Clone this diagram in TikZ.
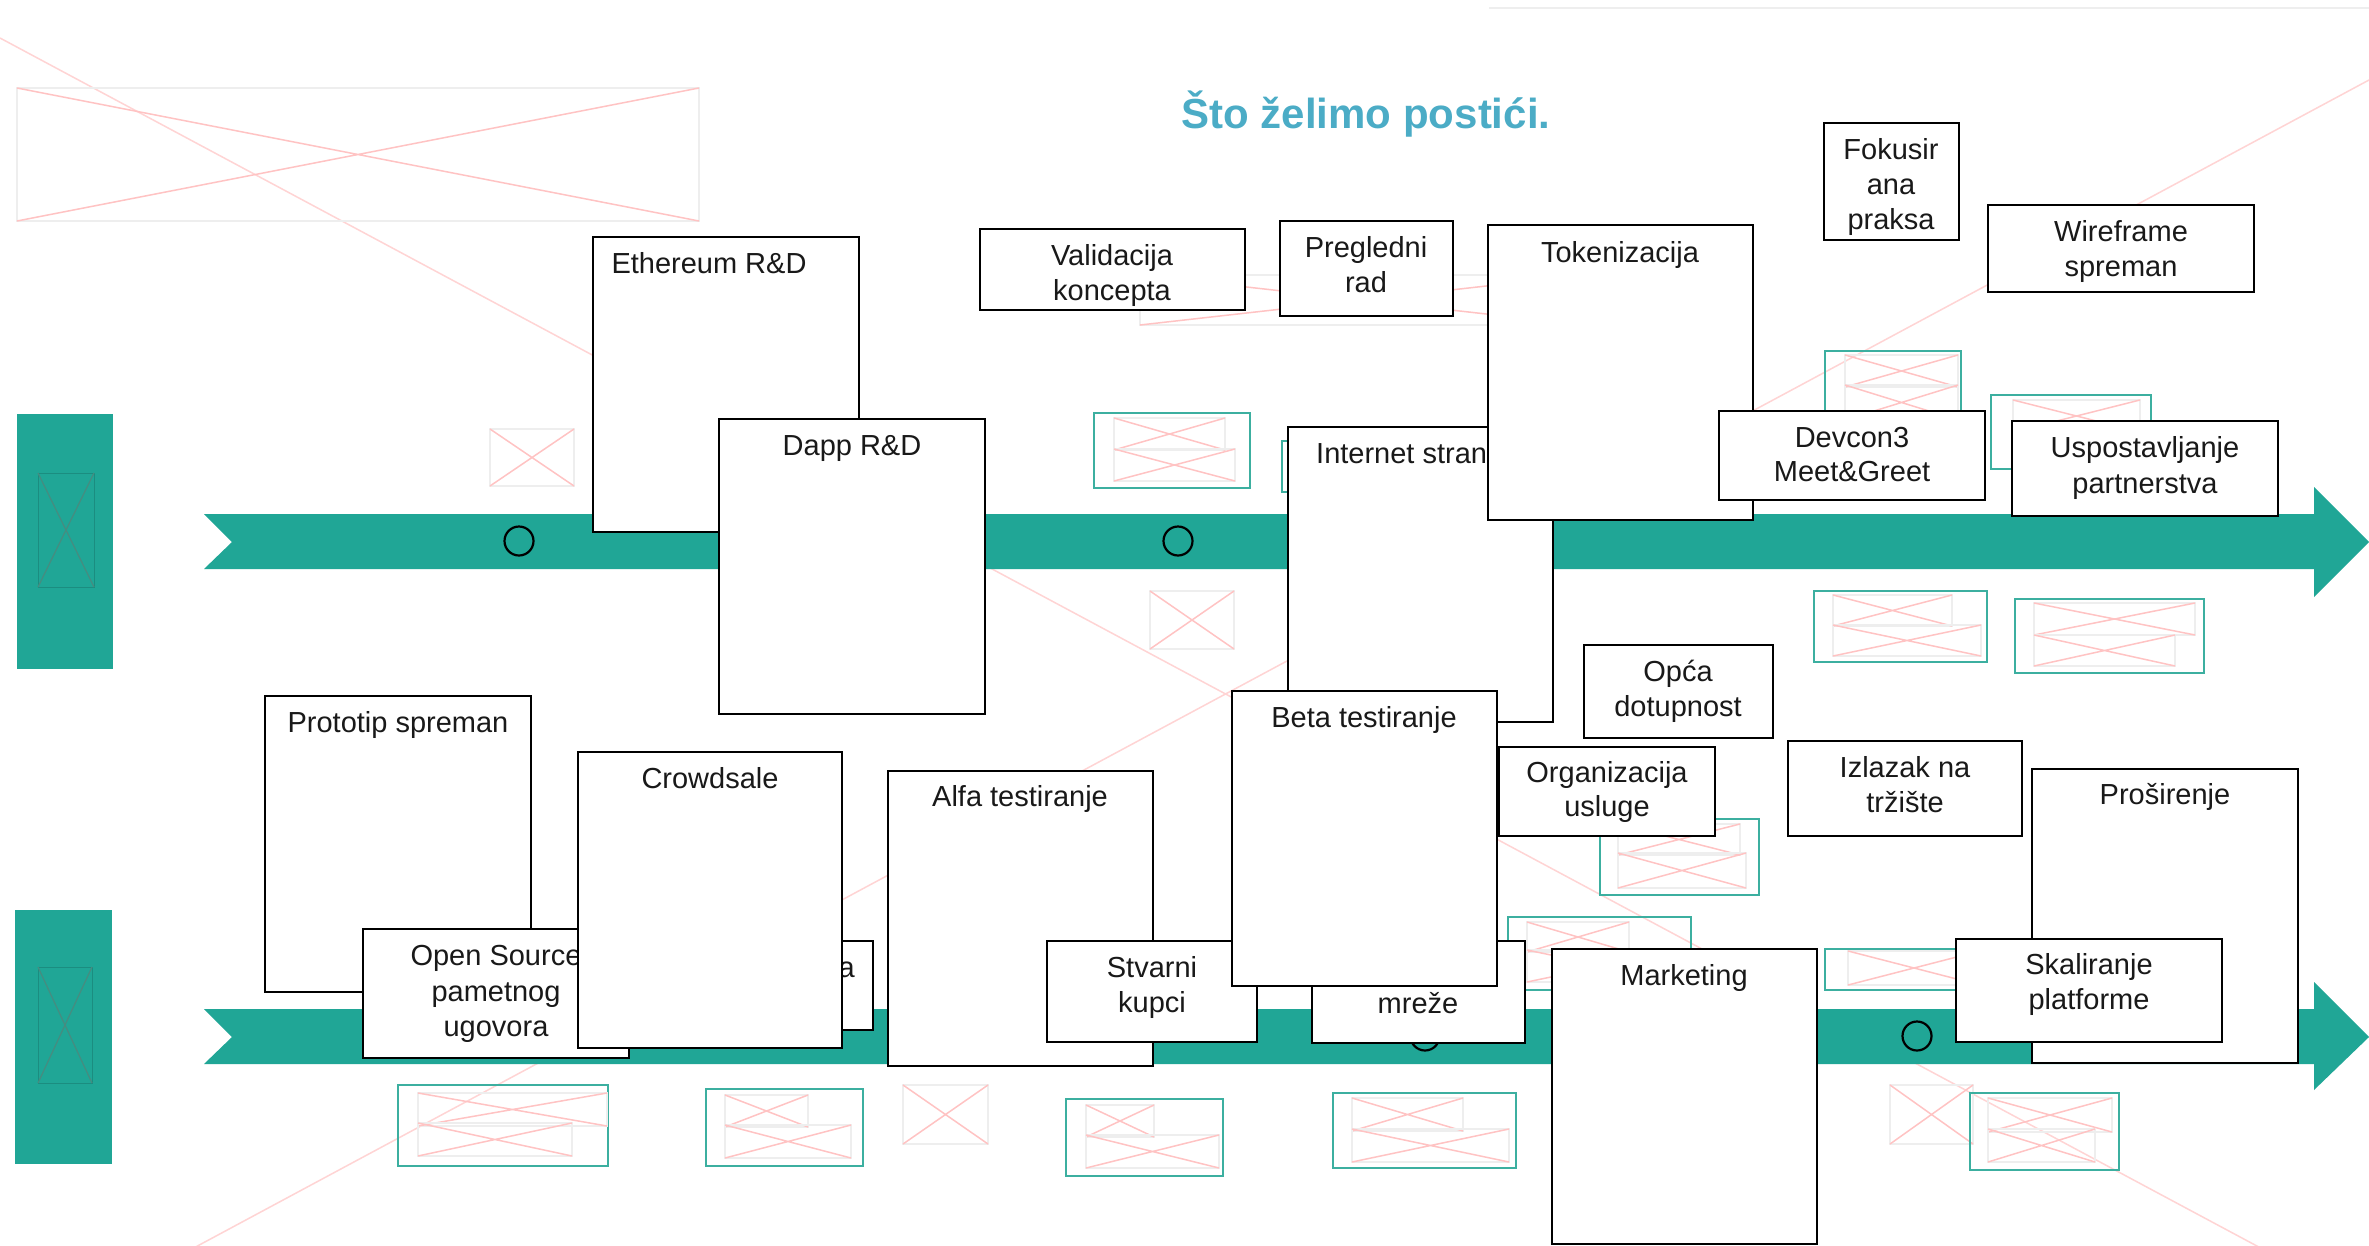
\documentclass[tikz,border=0pt]{standalone}
\usepackage{fontspec}
\setmainfont{Liberation Sans}
\usetikzlibrary{fit}
\definecolor{teal1}{RGB}{32,166,150}
\definecolor{tealline}{RGB}{60,175,160}
\definecolor{titleblue}{RGB}{75,172,198}
\definecolor{pinkline}{RGB}{255,195,195}
\definecolor{bigpink}{RGB}{255,212,212}
\definecolor{phgray}{RGB}{238,238,238}
\definecolor{txtc}{RGB}{25,25,25}
\definecolor{lfline}{RGB}{70,140,128}
\tikzset{
  wbox/.style={draw=black, fill=white, line width=2pt, inner sep=0pt, rectangle},
  txt/.style={font=\fontsize{29}{35}\selectfont, text=txtc, anchor=base, inner sep=0pt},
  phborder/.style={draw=phgray, line width=1.5pt},
  phx/.style={draw=pinkline, line width=1.5pt},
  tealb/.style={draw=tealline, line width=2.5pt},
  bigx/.style={draw=bigpink, line width=1.5pt},
  band/.style={fill=teal1},
  ms/.style={draw=black, line width=2.2pt, circle, inner sep=0pt, minimum size=29pt},
  lfx/.style={draw=lfline, line width=1.2pt},
  lfb/.style={draw=teal1!85!black, line width=0.8pt},
}
\newcommand\phbox[4]{\draw[phborder] (#1,#2) rectangle (#3,#4);
  \draw[phx] (#1,#2) -- (#3,#4) (#1,#4) -- (#3,#2);}
\newcommand\tealph[4]{\draw[tealb] (#1,#2) rectangle (#3,#4);}
\begin{document}
\begin{tikzpicture}[x=1pt,y=-1pt]
\clip (0,0) rectangle (2369,1245);
\fill[white] (0,0) rectangle (2369,1245);
% faint background lines
\draw[phgray, line width=1.5pt] (1489,8) -- (2369,8);
\draw[bigx] (0,38) -- (2369,1306);
\draw[bigx] (2369,80) -- (0,1352);
% plain placeholders
\phbox{17}{88}{699}{221}
\phbox{490}{429}{574}{486}
\phbox{1150}{591}{1234}{649}
\phbox{903}{1085}{988}{1144}
\phbox{1890}{1085}{1973}{1144}
\phbox{1140}{275}{1584}{325}
% teal placeholders
\tealph{1094}{413}{1250}{488}\phbox{1114}{418}{1225}{450}\phbox{1114}{449}{1235}{481}
\tealph{1282}{441}{1400}{492}
\tealph{1825}{351}{1961}{430}\phbox{1845}{355}{1958}{387}\phbox{1845}{385}{1958}{420}
\tealph{1991}{395}{2151}{469}\phbox{2013}{400}{2140}{432}\phbox{2013}{430}{2140}{462}
\tealph{1814}{591}{1987}{662}\phbox{1833}{595}{1952}{626}\phbox{1833}{625}{1981}{656}
\tealph{2015}{599}{2204}{673}\phbox{2034}{603}{2195}{635}\phbox{2034}{635}{2175}{666}
\tealph{1600}{819}{1759}{895}\phbox{1618}{824}{1740}{855}\phbox{1618}{853}{1746}{888}
\tealph{1508}{917}{1691}{990}\phbox{1527}{922}{1629}{952}\phbox{1527}{950}{1680}{982}
\tealph{1825}{949}{1990}{990}\phbox{1848}{951}{1980}{985}
\tealph{398}{1085}{608}{1166}\phbox{418}{1093}{607}{1126}\phbox{418}{1123}{572}{1156}
\tealph{706}{1089}{863}{1166}\phbox{725}{1095}{808}{1127}\phbox{725}{1125}{851}{1158}
\tealph{1066}{1099}{1223}{1176}\phbox{1086}{1105}{1154}{1137}\phbox{1086}{1135}{1219}{1168}
\tealph{1333}{1093}{1516}{1168}\phbox{1352}{1098}{1463}{1131}\phbox{1352}{1129}{1509}{1162}
\tealph{1970}{1093}{2119}{1170}\phbox{1988}{1098}{2112}{1132}\phbox{1988}{1129}{2095}{1162}
% left teal blocks
\fill[teal1] (17,414) rectangle (113,669);
\draw[lfb] (38,473) rectangle (94,587);
\draw[lfx] (38,473) -- (94,587) (38,587) -- (94,473);
\fill[teal1] (15,910) rectangle (112,1164);
\draw[lfb] (38,967) rectangle (92,1083);
\draw[lfx] (38,967) -- (92,1083) (38,1083) -- (92,967);
% timeline bands
\fill[band] (204,514) -- (2314,514) -- (2314,487) -- (2369,542) -- (2314,597) -- (2314,569) -- (204,569) -- (232,542) -- cycle;
\fill[band] (204,1009) -- (2314,1009) -- (2314,982) -- (2369,1037) -- (2314,1090) -- (2314,1064) -- (204,1064) -- (232,1037) -- cycle;
% milestones
\node[ms] (m1) at (519,541) {};
\node[ms] (m2) at (1178,541) {};
\node[ms] (m3) at (1425,1036) {};
\node[ms] (m4) at (1917,1036) {};
% title
\node[font=\fontsize{42}{50}\selectfont\bfseries, text=titleblue, anchor=base, inner sep=0pt] (title) at (1366,128) {Što želimo postići.};
% boxes
\node[wbox, fit={(593,237) (859,532)}] (eth) {};
\node[txt] (ethT) at (709,273) {Ethereum R\&D};
\node[wbox, fit={(719,419) (985,714)}] (dapp) {};
\node[txt] (dappT) at (852,455) {Dapp R\&D};
\node[wbox, fit={(980,229) (1245,310)}] (val) {};
\node[txt] (valT1) at (1112,265) {Validacija};
\node[txt] (valT2) at (1112,300) {koncepta};
\node[wbox, fit={(1280,221) (1453,316)}] (preg) {};
\node[txt] (pregT1) at (1366,257) {Pregledni};
\node[txt] (pregT2) at (1366,292) {rad};
\node[wbox, fit={(1288,427) (1553,722)}] (inet) {};
\node[txt, anchor=base west] (inetT) at (1316,463) {Internet stran};
\node[wbox, fit={(1488,225) (1753,520)}] (tok) {};
\node[txt] (tokT) at (1620,262) {Tokenizacija};
\node[wbox, fit={(1719,411) (1985,500)}] (dev) {};
\node[txt] (devT1) at (1852,447) {Devcon3};
\node[txt] (devT2) at (1852,481) {Meet\&Greet};
\node[wbox, fit={(1824,123) (1959,240)}] (fok) {};
\node[txt] (fokT1) at (1891,159) {Fokusir};
\node[txt] (fokT2) at (1891,194) {ana};
\node[txt] (fokT3) at (1891,229) {praksa};
\node[wbox, fit={(1988,205) (2254,292)}] (wire) {};
\node[txt] (wireT1) at (2121,241) {Wireframe};
\node[txt] (wireT2) at (2121,276) {spreman};
\node[wbox, fit={(2012,421) (2278,516)}] (usp) {};
\node[txt] (uspT1) at (2145,457) {Uspostavljanje};
\node[txt] (uspT2) at (2145,493) {partnerstva};
\node[wbox, fit={(1584,645) (1773,738)}] (opca) {};
\node[txt] (opcaT1) at (1678,681) {Opća};
\node[txt] (opcaT2) at (1678,716) {dotupnost};
\node[wbox, fit={(1499,747) (1715,836)}] (org) {};
\node[txt] (orgT1) at (1607,782) {Organizacija};
\node[txt] (orgT2) at (1607,816) {usluge};
\node[wbox, fit={(1788,741) (2022,836)}] (izl) {};
\node[txt] (izlT1) at (1905,777) {Izlazak na};
\node[txt] (izlT2) at (1905,812) {tržište};
\node[wbox, fit={(265,696) (531,992)}] (proto) {};
\node[txt] (protoT) at (398,732) {Prototip spreman};
\node[wbox, fit={(363,929) (629,1058)}] (open) {};
\node[txt] (openT1) at (496,965) {Open Source};
\node[txt] (openT2) at (496,1001) {pametnog};
\node[txt] (openT3) at (496,1036) {ugovora};
\node[wbox, fit={(660,941) (873,1030)}] (hid) {};
\node[txt, anchor=base east] (hidT) at (855,977) {a};
\node[wbox, fit={(578,752) (842,1048)}] (crowd) {};
\node[txt] (crowdT) at (710,788) {Crowdsale};
\node[wbox, fit={(888,771) (1153,1066)}] (alfa) {};
\node[txt] (alfaT) at (1020,806) {Alfa testiranje};
\node[wbox, fit={(1047,941) (1257,1042)}] (stv) {};
\node[txt] (stvT1) at (1152,977) {Stvarni};
\node[txt] (stvT2) at (1152,1012) {kupci};
\node[wbox, fit={(1312,941) (1525,1043)}] (mreze) {};
\node[txt] (mrezeT) at (1418,1013) {mreže};
\node[wbox, fit={(1232,691) (1497,986)}] (beta) {};
\node[txt] (betaT) at (1364,727) {Beta testiranje};
\node[wbox, fit={(1552,949) (1817,1244)}] (mark) {};
\node[txt] (markT) at (1684,985) {Marketing};
\node[wbox, fit={(2032,769) (2298,1063)}] (pros) {};
\node[txt] (prosT) at (2165,804) {Proširenje};
\node[wbox, fit={(1956,939) (2222,1042)}] (skal) {};
\node[txt] (skalT1) at (2089,974) {Skaliranje};
\node[txt] (skalT2) at (2089,1009) {platforme};
\end{tikzpicture}
\end{document}
